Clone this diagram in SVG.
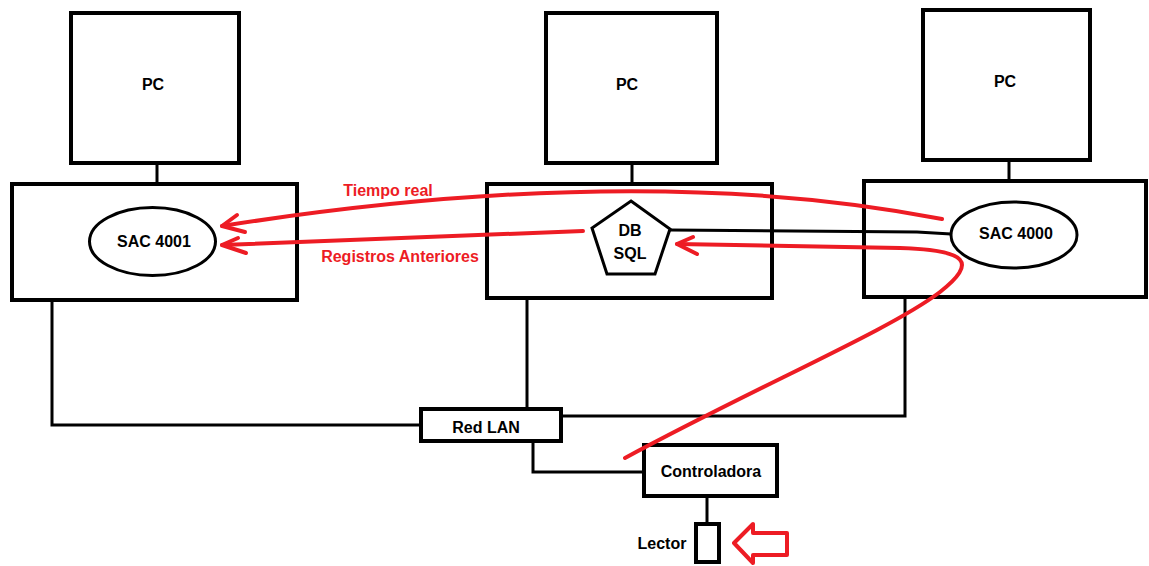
<svg xmlns="http://www.w3.org/2000/svg" width="1149" height="566" viewBox="0 0 1149 566">
<style>
.box{fill:#fff;stroke:#000;stroke-width:4}
.ell{fill:#fff;stroke:#000;stroke-width:3}
.wire{fill:none;stroke:#000;stroke-width:3}
.red{fill:none;stroke:#ED1C24;stroke-width:4;stroke-linecap:round;stroke-linejoin:round}
.t{font-family:"Liberation Sans",Arial,sans-serif;font-weight:bold;font-size:16px;fill:#000;text-anchor:middle}
.rt{font-family:"Liberation Sans",Arial,sans-serif;font-weight:bold;font-size:16px;fill:#ED1C24;text-anchor:middle}
</style>
<rect width="1149" height="566" fill="#fff"/>
<g id="pc1"><rect class="box" x="71" y="13" width="168" height="150"/><text class="t" x="153" y="90">PC</text></g>
<g id="pc2"><rect class="box" x="546" y="13" width="171" height="150"/><text class="t" x="627" y="90">PC</text></g>
<g id="pc3"><rect class="box" x="923" y="10" width="167" height="150"/><text class="t" x="1005" y="87">PC</text></g>
<g id="server1"><rect class="box" x="12" y="184" width="285" height="116"/></g>
<g id="server2"><rect class="box" x="487" y="184" width="285" height="114"/></g>
<g id="server3"><rect class="box" x="864" y="181" width="282" height="116"/></g>
<g id="sac4001"><ellipse class="ell" cx="152.5" cy="241.5" rx="63" ry="34"/><text class="t" x="154" y="247">SAC 4001</text></g>
<g id="dbsql"><polygon class="ell" points="631,201 670,229 655,274 607,274 592,228"/><text class="t" x="630" y="236">DB</text><text class="t" x="630" y="259">SQL</text></g>
<g id="sac4000"><ellipse class="ell" cx="1014" cy="235" rx="63" ry="33"/><text class="t" x="1016" y="239">SAC 4000</text></g>
<g id="redlan"><rect class="box" x="421" y="409" width="140" height="32"/><text class="t" x="486" y="433">Red LAN</text></g>
<g id="controladora"><rect class="box" x="644" y="445" width="133" height="51"/><text class="t" x="711" y="477">Controladora</text></g>
<g id="lector"><rect class="box" x="696" y="524" width="23" height="38"/><text class="t" x="662" y="549">Lector</text></g>
<g id="connectors">
<line class="wire" x1="157" y1="165" x2="157" y2="182"/>
<line class="wire" x1="632" y1="165" x2="632" y2="182"/>
<line class="wire" x1="1009" y1="162" x2="1009" y2="179"/>
<polyline class="wire" points="52,302 52,425 419,425"/>
<polyline class="wire" points="527,300 527,407"/>
<polyline class="wire" points="905,299 905,416 563,416"/>
<polyline class="wire" points="533,443 533,472 642,472"/>
<line class="wire" x1="707" y1="498" x2="707" y2="522"/>
<polyline class="wire" points="670,230 917,232 951,234"/>
</g>
<g id="red-arrows">
<path class="red" d="M942,219 Q640,160 222,226"/>
<polyline class="red" points="237,215 222,226 245,232"/>
<path class="red" d="M583,231 L222,245"/>
<polyline class="red" points="238,238 222,245 246,253"/>
<path class="red" d="M625,458 C760,385 890,330 940,292 C978,262 968,250 900,248 L677,244"/>
<polyline class="red" points="693,237 677,244 697,254"/>
<polygon class="red" stroke-width="3" points="734,543 753,524 753,533 787,533 787,555 753,555 753,563"/>
</g>
<text class="rt" x="388" y="196">Tiempo real</text>
<text class="rt" x="400" y="262">Registros Anteriores</text>
</svg>
